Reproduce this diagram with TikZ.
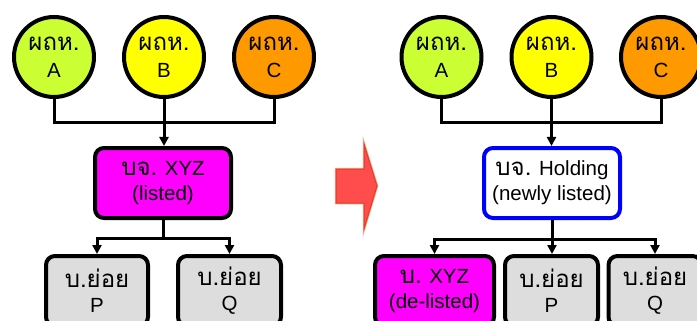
\documentclass[tikz,border=0pt]{standalone}
\usepackage{fontspec}
\setmainfont{Liberation Sans}
\newfontfamily\thaifont[Script=Thai]{Loma}
\usetikzlibrary{arrows.meta}
\newcommand{\thb}[1]{{\thaifont\fontsize{24}{24}\selectfont #1}}
\definecolor{cgreen}{HTML}{CCFF33}
\definecolor{cyellow}{HTML}{FFFF00}
\definecolor{corange}{HTML}{FF9900}
\definecolor{cmag}{HTML}{FF00FF}
\definecolor{cgray}{HTML}{DDDDDD}
\definecolor{cblue}{HTML}{0000FF}
\definecolor{cred}{HTML}{FF4D4D}
\definecolor{credline}{HTML}{E0401E}
\definecolor{credglow}{HTML}{F6A896}
\tikzset{
  circ/.style={font=\fontsize{20.5}{27}\selectfont, align=center, circle, draw, line width=4pt, minimum size=80pt, inner sep=0pt},
  box/.style={font=\fontsize{20.5}{25}\selectfont, align=center, draw, rounded corners=9pt, line width=4pt, minimum height=70pt, inner sep=0pt},
  conn/.style={line width=3pt},
  arr/.style={conn, -{Triangle[width=9pt,length=9pt]}},
}
\begin{document}
\begin{tikzpicture}[x=1pt,y=-1pt]
\useasboundingbox (0,0) rectangle (697,321);
\clip (0,0) rectangle (697,321);
% left side
\node[circ, fill=cgreen]  (la) at (54,57)  {\thb{ผถห.}\\A};
\node[circ, fill=cyellow] (lb) at (164,57) {\thb{ผถห.}\\B};
\node[circ, fill=corange] (lc) at (274,57) {\thb{ผถห.}\\C};
\node[box, fill=cmag, minimum width=136pt] (lx) at (163,183) {\thb{บจ.} XYZ\\(listed)};
\node[box, fill=cgray, minimum width=102pt] (lp) at (97,291) {\thb{บ.ย่อย}\\P};
\node[box, fill=cgray, minimum width=103pt] (lq) at (229.5,291) {\thb{บ.ย่อย}\\Q};
\coordinate (lj) at (164,123);
\coordinate (lk) at (163,238);
\draw[conn] (la.south) |- (lj) -| (lc.south);
\draw[arr] (lb.south) -- (lb.south |- lx.north);
\draw[conn] (lx.south) -- (lk);
\draw[arr] (lk) -| (lp.north);
\draw[arr] (lk) -| (lq.north);
% big arrow
\coordinate (b1) at (336,169);
\coordinate (b2) at (364,169);
\coordinate (b3) at (364,144);
\coordinate (b4) at (377,186);
\coordinate (b5) at (364,229);
\coordinate (b6) at (364,203);
\coordinate (b7) at (336,203);
\draw[credglow, line width=2.5pt, line join=miter] (b1) -- (b2) -- (b3) -- (b4) -- (b5) -- (b6) -- (b7) -- cycle;
\draw[fill=cred, draw=credline, line width=1pt] (b1) -- (b2) -- (b3) -- (b4) -- (b5) -- (b6) -- (b7) -- cycle;
% right side
\node[circ, fill=cgreen]  (ra) at (441.5,57) {\thb{ผถห.}\\A};
\node[circ, fill=cyellow] (rb) at (551.5,57) {\thb{ผถห.}\\B};
\node[circ, fill=corange] (rc) at (661,57)   {\thb{ผถห.}\\C};
\node[box, fill=white, draw=cblue, minimum width=136pt] (rh) at (552,183) {\thb{บจ.} Holding\\(newly listed)};
\node[box, fill=cmag, minimum width=119pt] (rx) at (434.5,291) {\thb{บ.} XYZ\\(de-listed)};
\node[box, fill=cgray, minimum width=93pt] (rp) at (551.5,291) {\thb{บ.ย่อย}\\P};
\node[box, fill=cgray, minimum width=93pt] (rq) at (655,291) {\thb{บ.ย่อย}\\Q};
\coordinate (rj) at (551.5,123);
\coordinate (rk) at (552,239);
\draw[conn] (ra.south) |- (rj) -| (rc.south);
\draw[arr] (rb.south) -- (rb.south |- rh.north);
\draw[conn] (rh.south) -- (rk);
\draw[arr] (rk) -| (rx.north);
\draw[arr] (rk) -- (rk |- rp.north);
\draw[arr] (rk) -| (rq.north);
\end{tikzpicture}
\end{document}
